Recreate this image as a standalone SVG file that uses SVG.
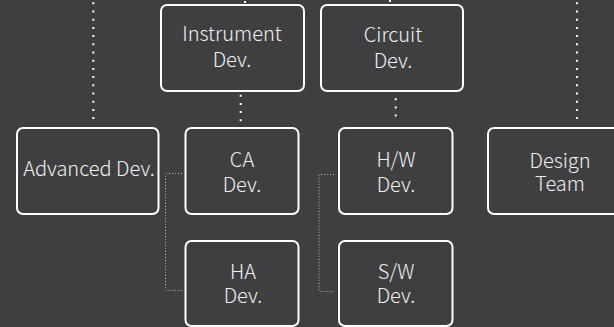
<svg xmlns="http://www.w3.org/2000/svg" width="614" height="327" viewBox="0 0 614 327">
  <style>
    .box { fill: #3f3f41; stroke: #ffffff; stroke-width: 2; }
    .lbl { fill: #f0f0f0; font-family: "Noto Sans CJK KR", "Open Sans", sans-serif; font-size: 20px; font-weight: 300; text-anchor: middle; }
    .link { fill: none; stroke: #ffffff; stroke-width: 2; stroke-dasharray: 2 6.2; }
    .tie { fill: none; stroke: #b8b8b8; stroke-width: 1; stroke-dasharray: 1 2; }
  </style>
  <rect width="614" height="327" fill="#3f3f41"/>

  <g id="connectors">
    <line class="link" x1="93.3" y1="2.3" x2="93.3" y2="120"/>
    <line class="link" x1="245" y1="1" x2="245" y2="4"/>
    <line class="link" x1="240.7" y1="94.7" x2="240.7" y2="122"/>
    <line class="link" x1="390" y1="0" x2="390" y2="3"/>
    <line class="link" x1="395.7" y1="90" x2="395.7" y2="118"/>
    <line class="link" x1="577" y1="2.3" x2="577" y2="120"/>
    <path class="tie" d="M182 173.5 H167 Q165.5 173.5 165.5 175 V289 Q165.5 290.5 167 290.5 H182"/>
    <path class="tie" d="M334 174.5 H320 Q319 174.5 319 176 V290 Q319 291.5 320 291.5 H334"/>
  </g>

  <g id="instrument-dev">
    <rect class="box" x="161" y="5" width="143" height="86" rx="6"/>
    <text class="lbl" x="232" y="41">Instrument</text>
    <text class="lbl" x="232" y="67">Dev.</text>
  </g>
  <g id="circuit-dev">
    <rect class="box" x="321" y="5" width="142" height="86" rx="6"/>
    <text class="lbl" x="393" y="41.5">Circuit</text>
    <text class="lbl" x="393" y="67.5">Dev.</text>
  </g>
  <g id="advanced-dev">
    <rect class="box" x="17" y="128" width="141.5" height="86" rx="6"/>
    <text class="lbl" x="89" y="176">Advanced Dev.</text>
  </g>
  <g id="ca-dev">
    <rect class="box" x="185.5" y="128" width="113" height="86" rx="6"/>
    <text class="lbl" x="242" y="167">CA</text>
    <text class="lbl" x="242" y="191.5">Dev.</text>
  </g>
  <g id="ha-dev">
    <rect class="box" x="185.5" y="241" width="113" height="85" rx="6"/>
    <text class="lbl" x="243" y="279.3">HA</text>
    <text class="lbl" x="243" y="303.3">Dev.</text>
  </g>
  <g id="hw-dev">
    <rect class="box" x="339" y="128" width="113.5" height="86" rx="6"/>
    <text class="lbl" x="396" y="167">H/W</text>
    <text class="lbl" x="396" y="191.5">Dev.</text>
  </g>
  <g id="sw-dev">
    <rect class="box" x="339" y="241" width="113.5" height="85" rx="6"/>
    <text class="lbl" x="396" y="279">S/W</text>
    <text class="lbl" x="396" y="303">Dev.</text>
  </g>
  <g id="design-team">
    <rect class="box" x="488" y="128" width="145" height="86" rx="6"/>
    <text class="lbl" x="560" y="168.3">Design</text>
    <text class="lbl" x="560" y="191">Team</text>
  </g>
</svg>
